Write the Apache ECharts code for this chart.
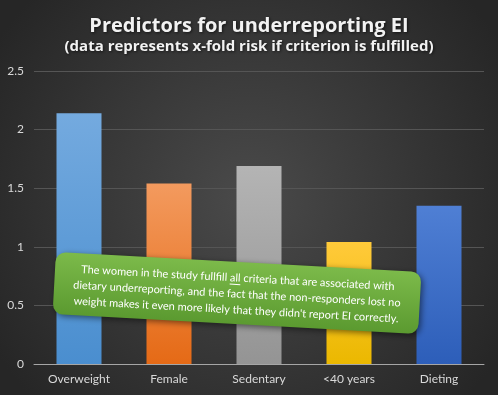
<!DOCTYPE html>
<html><head><meta charset="utf-8">
<script src="https://cdn.jsdelivr.net/npm/echarts@6/dist/echarts.min.js"></script>
<style>html,body{margin:0;padding:0;background:#333;}#c{width:498px;height:395px;}</style>
</head><body><div id="c"></div>
<script>
const categories = ['Overweight', 'Female', 'Sedentary', '<40 years', 'Dieting'];
const values = [2.14, 1.54, 1.69, 1.04, 1.35];
const yTicks = [0, 0.5, 1, 1.5, 2, 2.5];
const titleText = 'Predictors for underreporting EI';
const subtitleText = '(data represents x-fold risk if criterion is fulfilled)';
const noteLine1a = 'The women in the study fullfill ';
const noteLine1b = 'all';
const noteLine1c = ' criteria that are associated with';
const noteLine2 = 'dietary underreporting, and the fact that the non-responders lost no';
const noteLine3 = "weight makes it even more likely that they didn't report EI correctly.";

const barColors = [
  ['#74aadf', '#4a8ecf'],
  ['#f39a5e', '#e56a16'],
  ['#b4b4b4', '#949494'],
  ['#ffca3a', '#ebb800'],
  ['#4f7fd4', '#2d5eb9']
];
const FONT = 'Lato, "Noto Sans", sans-serif';
const TFONT = '"Open Sans", "Noto Sans", sans-serif';
const chart = echarts.init(document.getElementById('c'));

const noteFont = '11px Lato';
const ctx = document.createElement('canvas').getContext('2d');
ctx.font = noteFont;
const fullW = ctx.measureText(noteLine1a + noteLine1b + noteLine1c).width;
const aW = ctx.measureText(noteLine1a).width;
const bW = ctx.measureText(noteLine1b).width;
const ulX = -fullW / 2 + aW;

const shadowTxt = {textShadowColor: 'rgba(0,0,0,0.6)', textShadowBlur: 3, textShadowOffsetX: 1, textShadowOffsetY: 1};

chart.setOption({
  backgroundColor: {
    type: 'radial', x: 0.5, y: 0.5, r: 0.75,
    colorStops: [{offset: 0, color: '#4a4a4a'}, {offset: 1, color: '#262626'}]
  },
  title: {
    text: titleText, subtext: subtitleText, left: 'center', top: 11, itemGap: 3,
    textStyle: Object.assign({color: '#f2f2f2', fontFamily: TFONT, fontWeight: 'bold', fontSize: 20}, shadowTxt),
    subtextStyle: Object.assign({color: '#f2f2f2', fontFamily: TFONT, fontWeight: 'bold', fontSize: 15}, shadowTxt)
  },
  grid: {left: 34, right: 14, top: 71, bottom: 31},
  xAxis: {
    type: 'category', data: categories,
    axisLine: {lineStyle: {color: '#a6a6a6', width: 1}},
    axisTick: {show: false},
    axisLabel: {color: '#d9d9d9', fontFamily: FONT, fontSize: 12, margin: 9}
  },
  yAxis: {
    type: 'value', min: yTicks[0], max: yTicks[yTicks.length - 1], interval: 0.5,
    axisLine: {show: false}, axisTick: {show: false},
    splitLine: {lineStyle: {color: '#555555', width: 1}},
    axisLabel: {color: '#d9d9d9', fontFamily: FONT, fontSize: 12, margin: 10}
  },
  series: [{
    type: 'bar', barWidth: '50%',
    data: values.map((v, i) => ({
      value: v,
      itemStyle: {
        color: {type: 'linear', x: 0, y: 0, x2: 0, y2: 1,
          colorStops: [{offset: 0, color: barColors[i][0]}, {offset: 1, color: barColors[i][1]}]},
        shadowColor: 'rgba(0,0,0,0.45)', shadowBlur: 5, shadowOffsetX: 2, shadowOffsetY: 1
      }
    }))
  }],
  graphic: [{
    type: 'group', x: 237, y: 293, rotation: -0.055, z: 100,
    children: [
      {type: 'rect', z: 100, shape: {x: -183, y: -31, width: 366, height: 62, r: 10},
        style: {fill: {type: 'linear', x: 0, y: 0, x2: 0, y2: 1,
          colorStops: [{offset: 0, color: '#7cba4a'}, {offset: 1, color: '#5b9a30'}]},
          shadowColor: 'rgba(0,0,0,0.5)', shadowBlur: 6, shadowOffsetX: 2, shadowOffsetY: 2}},
      {type: 'text', z: 101, x: 0, y: -15, style: {text: noteLine1a + noteLine1b + noteLine1c, font: noteFont, fill: '#ffffff', align: 'center', verticalAlign: 'middle'}},
      {type: 'line', z: 101, shape: {x1: ulX, y1: -8.5, x2: ulX + bW, y2: -8.5}, style: {stroke: '#ffffff', lineWidth: 1}},
      {type: 'text', z: 101, x: 0, y: 1, style: {text: noteLine2, font: noteFont, fill: '#ffffff', align: 'center', verticalAlign: 'middle'}},
      {type: 'text', z: 101, x: 0, y: 17, style: {text: noteLine3, font: noteFont, fill: '#ffffff', align: 'center', verticalAlign: 'middle'}}
    ]
  }]
});
</script></body></html>
